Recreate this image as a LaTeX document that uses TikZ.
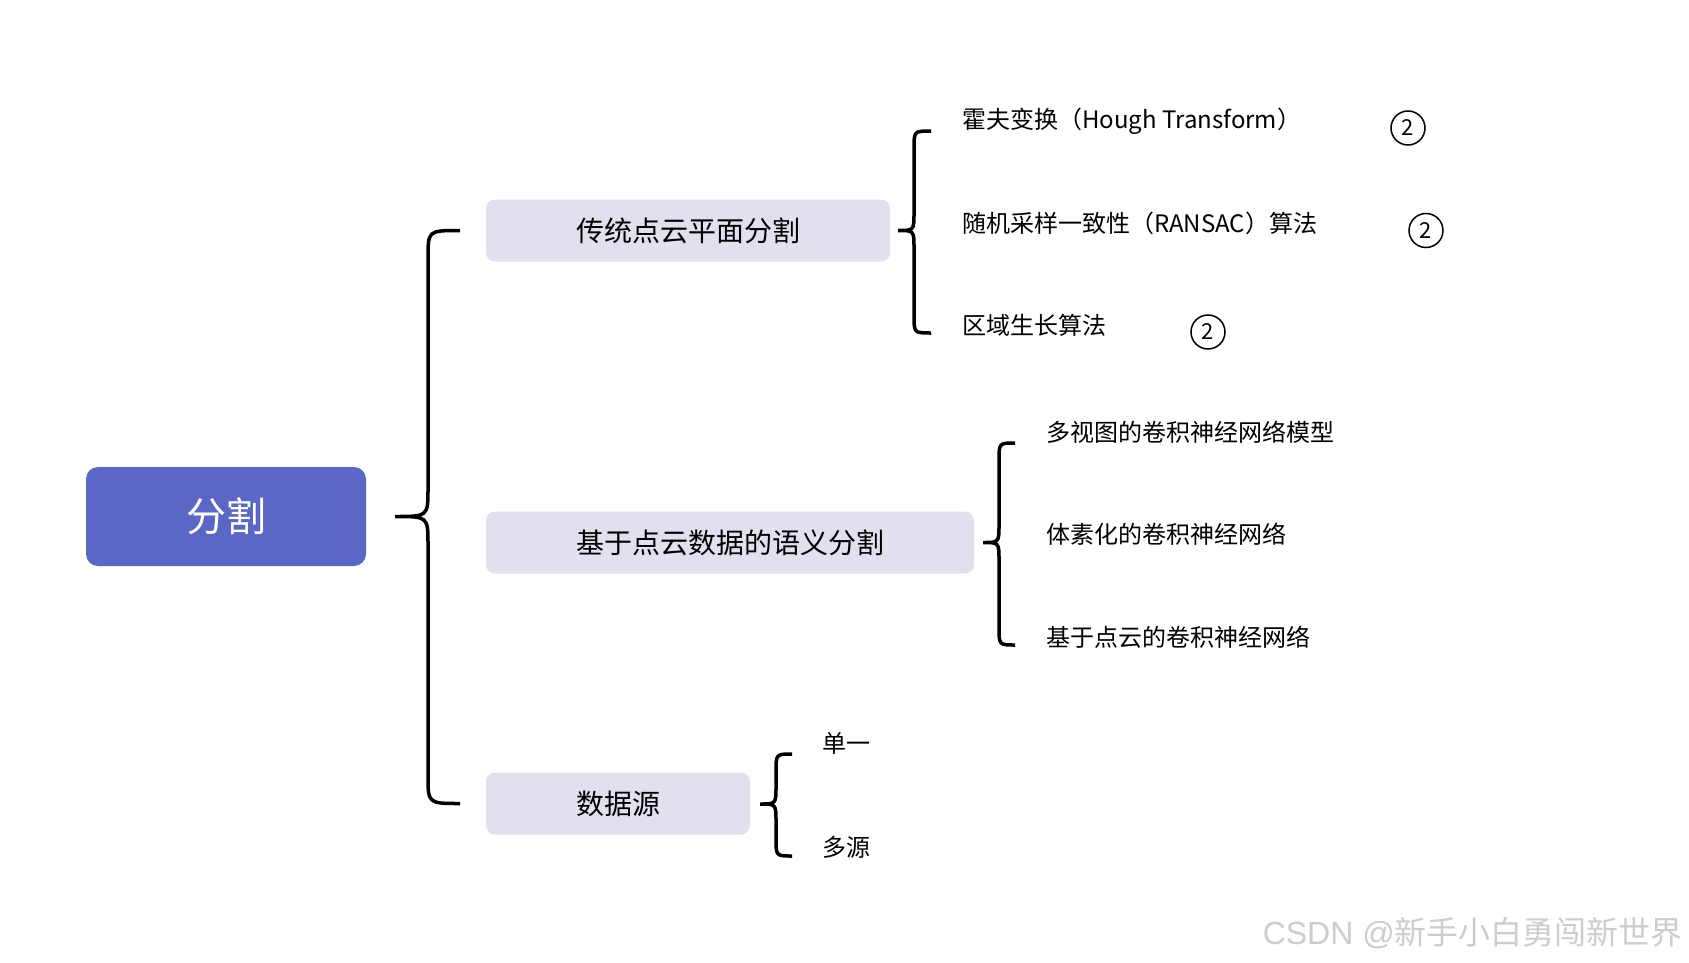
\documentclass[tikz,border=0pt]{standalone}
\usepackage{fontspec}
\setmainfont{Noto Sans CJK SC}
\newfontfamily\wmlatin{Liberation Sans}
\definecolor{mainblue}{RGB}{91,103,196}
\definecolor{subgray}{RGB}{225,224,239}
\definecolor{wmgray}{RGB}{205,205,205}
\newcommand\drawbrace[7]{\draw[bracestyle] (#2,#4) .. controls (#3,#4) .. (#3,{#4+#7}) -- (#3,{#5-#7}) .. controls (#3,#5) .. (#1,#5) .. controls (#3,#5) .. (#3,{#5+#7}) -- (#3,{#6-#7}) .. controls (#3,#6) .. (#2,#6);}
\begin{document}
\begin{tikzpicture}[x=1pt,y=-1pt,
  mainbox/.style={fill=mainblue,rounded corners=12pt,minimum width=280pt,minimum height=99pt,text=white,font=\fontsize{40}{48}\selectfont,inner sep=0pt},
  subbox/.style={fill=subgray,rounded corners=9pt,minimum height=62pt,font=\fontsize{28}{34}\selectfont,inner sep=0pt},
  leaf/.style={anchor=west,inner sep=0pt,font=\fontsize{24}{29}\selectfont},
  num/.style={circle,draw,line width=1.5pt,minimum size=34pt,inner sep=0pt,font=\fontsize{22}{26}\selectfont},
  bracestyle/.style={line width=3.5pt},
  wm/.style={anchor=east,inner sep=0pt,text=wmgray,font=\fontsize{32}{38}\selectfont}]
\useasboundingbox[fill=white] (0,0) rectangle (1689,963);
\node[mainbox] (root) at (226,516.5) {分割};
\node[subbox,minimum width=404pt] (b1) at (688,230.5) {传统点云平面分割};
\node[subbox,minimum width=488pt] (b2) at (730,542.5) {基于点云数据的语义分割};
\node[subbox,minimum width=264pt] (b3) at (618,803.5) {数据源};
\drawbrace{395}{460}{428}{230.5}{516.5}{803.5}{28}
\drawbrace{898}{931}{914}{131}{230.5}{333}{18}
\drawbrace{983}{1015}{999}{443}{542.5}{645}{18}
\drawbrace{760}{792}{776}{754}{804}{856}{18}
\node[leaf] (l11) at (962,121) {霍夫变换（Hough Transform）};
\node[leaf] (l12) at (962,223) {随机采样一致性（RANSAC）算法};
\node[leaf] (l13) at (962,325) {区域生长算法};
\node[num] (c1) at (1408,128) {2};
\node[num] (c2) at (1426,230.5) {2};
\node[num] (c3) at (1208,332) {2};
\node[leaf] (l21) at (1046,432) {多视图的卷积神经网络模型};
\node[leaf] (l22) at (1046,534) {体素化的卷积神经网络};
\node[leaf] (l23) at (1046,637) {基于点云的卷积神经网络};
\node[leaf] (l31) at (822,743) {单一};
\node[leaf] (l32) at (822,847) {多源};
\node[wm] (wmark) at (1683,933) {{\wmlatin CSDN @}新手小白勇闯新世界};
\end{tikzpicture}
\end{document}
